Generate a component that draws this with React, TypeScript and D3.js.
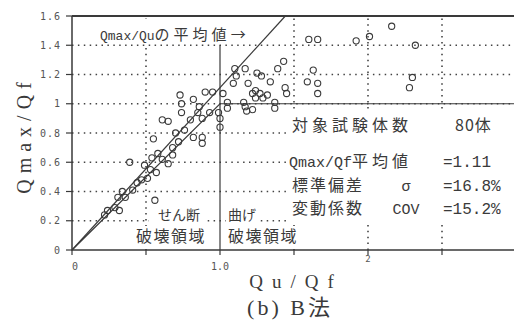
import React, { Component } from 'react'
import * as d3 from 'd3'

// せん断破壊領域 (Qu/Qf < 1)
const shearQu = [0.90, 0.95, 0.73, 0.74, 0.74, 0.82, 0.86, 0.85, 0.93, 0.99, 1.00, 0.88, 0.61, 0.65, 0.80,
  0.70, 0.76, 0.55, 0.72, 0.82, 0.88, 0.88, 0.68, 1.00, 0.58, 0.61, 0.65, 0.54, 0.49, 0.53,
  0.57, 0.51, 0.44, 0.39, 0.34, 0.41, 0.36, 0.31, 0.56, 0.24, 0.29, 0.32, 0.22, 0.47, 0.68]
const shearQmax = [1.08, 1.08, 1.06, 1.00, 0.94, 1.03, 0.98, 0.94, 0.94, 0.94, 0.90, 0.90, 0.89, 0.88, 0.89,
  0.80, 0.82, 0.76, 0.74, 0.77, 0.77, 0.73, 0.70, 0.84, 0.66, 0.62, 0.59, 0.63, 0.58, 0.55,
  0.53, 0.49, 0.46, 0.60, 0.40, 0.41, 0.36, 0.36, 0.34, 0.27, 0.29, 0.27, 0.24, 0.48, 0.65]

// 曲げ破壊領域 (Qu/Qf > 1)
const bendQu = [1.10, 1.17, 1.25, 1.28, 1.43, 1.39, 1.34, 1.11, 1.09, 1.19, 1.44, 1.02, 1.24, 1.22, 1.27,
  1.32, 1.24, 1.29, 1.37, 1.16, 1.05, 1.05, 1.17, 1.18, 1.22, 1.37, 1.60, 1.66, 1.92, 2.01,
  2.16, 2.32, 1.63, 1.59, 1.66, 1.66, 1.45, 2.30, 2.28]
const bendQmax = [1.24, 1.24, 1.21, 1.19, 1.29, 1.24, 1.15, 1.19, 1.14, 1.14, 1.11, 1.07, 1.09, 1.07, 1.07,
  1.06, 1.04, 1.04, 1.01, 1.01, 1.01, 0.97, 0.98, 0.95, 0.96, 0.97, 1.44, 1.44, 1.43, 1.46,
  1.53, 1.40, 1.23, 1.15, 1.14, 1.07, 1.07, 1.18, 1.11]

const yTicks = [0, 0.2, 0.4, 0.6, 0.8, 1, 1.2, 1.4, 1.6]
const yTickLabels = ['0', '0.2', '0.4', '0.6', '0.8', '1', '1.2', '1.4', '1.6']
const xTicks = [0, 0.5, 1, 1.5, 2, 2.5]
const xGrid = [0.5, 1.5, 2, 2.5]
const xLabelValues = [0, 1, 2]
const xLabelTexts = ['0', '1.0', '2']

const meanRatio = 1.11   // Qmax/Qu の平均値
const specimenCount = '80体'
const statLatin = ['Qmax/Qf', '', '']
const statLabels = ['平均値', '標準偏差', '変動係数']
const statSymbols = ['', 'σ', 'COV']
const statValues = ['=1.11', '=16.8%', '=15.2%']

const ink = '#3a3a3a'
const serif = '"Liberation Serif", "Noto Sans CJK JP", serif'
const mono = '"Liberation Mono", monospace'
const jp = '"Noto Sans CJK JP", "Liberation Serif", serif'

class App extends Component {
  svgRef = React.createRef<SVGSVGElement>()

  componentDidMount() {
    this.drawChart()
  }

  drawChart() {
    var width = 514
    var svg = d3.select(this.svgRef.current)
    svg.selectAll('*').remove()

    var x = d3.scaleLinear().domain([0, 3]).range([72, 516])
    var y = d3.scaleLinear().domain([0, 1.6]).range([250, 16])

    // dotted grid
    svg.append('g').selectAll('line')
      .data(yTicks.filter(d => d > 0 && d < 1.6))
      .enter().append('line')
      .attr('x1', x(0)).attr('x2', width)
      .attr('y1', d => y(d)).attr('y2', d => y(d))
      .attr('stroke', '#444').attr('stroke-width', 1.6)
      .attr('stroke-dasharray', '1.5 4.4')

    svg.append('g').selectAll('line')
      .data(xGrid)
      .enter().append('line')
      .attr('x1', d => x(d)).attr('x2', d => x(d))
      .attr('y1', y(0)).attr('y2', y(1.6))
      .attr('stroke', '#444').attr('stroke-width', 1.6)
      .attr('stroke-dasharray', '1.5 4.4')

    // white boxes behind the notes
    var boxes = [
      [95, 19, 168, 25],
      [288, 109, 230, 115],
      [149, 205, 58, 21],
      [226, 205, 34, 19],
      [131, 226, 86, 23],
      [226, 226, 80, 23]
    ]
    svg.append('g').selectAll('rect')
      .data(boxes)
      .enter().append('rect')
      .attr('x', d => d[0]).attr('y', d => d[1])
      .attr('width', d => d[2]).attr('height', d => d[3])
      .attr('fill', 'white')

    // shear / bending boundary
    svg.append('line')
      .attr('x1', x(1)).attr('x2', x(1))
      .attr('y1', y(0)).attr('y2', y(1.4))
      .attr('stroke', ink).attr('stroke-width', 1.2)

    // Qmax/Qf = Qu/Qf , then = 1
    var line = d3.line<number[]>().x(d => x(d[0])).y(d => y(d[1]))
    svg.append('path')
      .datum([[0, 0], [1, 1], [3, 1]])
      .attr('d', line)
      .attr('fill', 'none').attr('stroke', ink).attr('stroke-width', 1.2)

    // mean line
    svg.append('path')
      .datum([[0, 0], [1.6 / meanRatio, 1.6]])
      .attr('d', line)
      .attr('fill', 'none').attr('stroke', ink).attr('stroke-width', 1.2)

    // specimens
    var pts = shearQu.map((d, i) => [d, shearQmax[i]])
      .concat(bendQu.map((d, i) => [d, bendQmax[i]]))
    svg.append('g').selectAll('circle')
      .data(pts)
      .enter().append('circle')
      .attr('cx', d => x(d[0])).attr('cy', d => y(d[1]))
      .attr('r', 3.1)
      .attr('fill', 'none').attr('stroke', ink).attr('stroke-width', 1.1)

    // frame
    svg.append('path')
      .attr('d', 'M' + x(0) + ',' + y(1.6) + 'H' + width)
      .attr('stroke', ink).attr('stroke-width', 2)
    svg.append('path')
      .attr('d', 'M' + x(0) + ',' + y(1.6) + 'V' + y(0) + 'H' + width)
      .attr('fill', 'none').attr('stroke', ink).attr('stroke-width', 1.5)

    // y ticks
    var gy = svg.append('g')
    gy.selectAll('line').data(yTicks).enter().append('line')
      .attr('x1', x(0) - 6).attr('x2', x(0))
      .attr('y1', d => y(d)).attr('y2', d => y(d))
      .attr('stroke', ink).attr('stroke-width', 1.2)
    gy.selectAll('text').data(yTicks).enter().append('text')
      .attr('x', 61).attr('y', d => y(d) + 3.5)
      .attr('text-anchor', 'end')
      .attr('font-family', '"DejaVu Sans Mono", monospace')
      .attr('font-size', 10).attr('letter-spacing', 1)
      .attr('fill', '#555')
      .text((d, i) => yTickLabels[i])

    // x ticks
    var gx = svg.append('g')
    gx.selectAll('line').data(xTicks).enter().append('line')
      .attr('x1', d => x(d)).attr('x2', d => x(d))
      .attr('y1', y(0)).attr('y2', y(0) + 5)
      .attr('stroke', ink).attr('stroke-width', 1.2)
    gx.selectAll('text').data(xLabelValues).enter().append('text')
      .attr('x', (d, i) => x(d) + (i == 0 ? 3 : 0))
      .attr('y', (d, i) => i == 2 ? 262 : 270)
      .attr('text-anchor', 'middle')
      .attr('font-family', '"DejaVu Sans Mono", monospace')
      .attr('font-size', (d, i) => i == 2 ? 9 : 10)
      .attr('fill', '#555')
      .text((d, i) => xLabelTexts[i])

    // axis titles
    svg.append('text')
      .attr('transform', 'translate(31,135) rotate(-90)')
      .attr('text-anchor', 'middle')
      .attr('font-family', serif).attr('font-size', 20)
      .attr('letter-spacing', 6).attr('fill', ink)
      .text('Qmax/Qf')
    svg.append('text')
      .attr('x', 296).attr('y', 288)
      .attr('text-anchor', 'middle')
      .attr('font-family', serif).attr('font-size', 19)
      .attr('letter-spacing', 9).attr('fill', ink)
      .text('Qu/Qf')
    svg.append('text')
      .attr('x', 290).attr('y', 315)
      .attr('text-anchor', 'middle')
      .attr('font-family', serif).attr('font-size', 22)
      .attr('letter-spacing', 3).attr('fill', ink)
      .text('(b) B法')

    // notes: each part is [text, family, size, letter-spacing]
    var note = (tx: number, ty: number, parts: any[][], anchor = 'start') => {
      var t = svg.append('text')
        .attr('x', tx).attr('y', ty)
        .attr('text-anchor', anchor).attr('fill', ink)
      parts.forEach(p => {
        t.append('tspan')
          .attr('font-family', p[1]).attr('font-size', p[2])
          .attr('letter-spacing', p[3])
          .text(p[0])
      })
    }

    note(100, 40, [['Qmax/Qu', mono, 13, 0], ['の平均値', jp, 15, 4], ['→', jp, 15, 0]])
    note(158, 220, [['せん断', jp, 14, 0]])
    note(228, 220, [['曲げ', jp, 14, 0]])
    note(136, 242, [['破壊領域', jp, 16, 1.5]])
    note(228, 242, [['破壊領域', jp, 16, 1.5]])

    note(292, 131, [['対象試験体数', jp, 16, 4]])
    note(455, 131, [[specimenCount, jp, 16, 1]])
    statLabels.forEach((s, i) => {
      var ty = [167, 191, 214][i]
      if (statLatin[i]) note(289, ty, [[statLatin[i], mono, 15, 0], [s, jp, 16, 4]])
      else note(292, ty, [[s, jp, 16, 2]])
      if (statSymbols[i]) note(406, ty, [[statSymbols[i], mono, 15, 0]], 'middle')
      note(443, ty, [[statValues[i], mono, 16, 0]])
    })
  }

  render() {
    return (
      <svg ref={this.svgRef} width={514} height={324}
        style={{ position: 'absolute', left: 0, top: 0, background: 'white' }} />
    )
  }
}

export default App
